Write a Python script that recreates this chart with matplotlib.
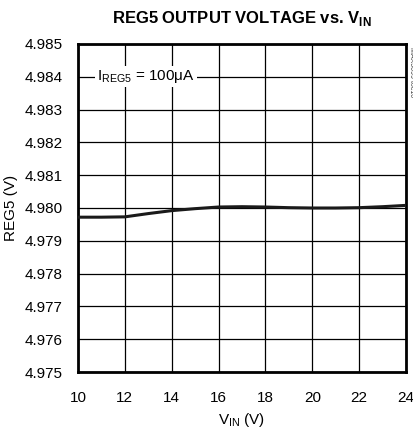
import matplotlib
matplotlib.use("Agg")
import matplotlib.pyplot as plt
from matplotlib import font_manager

names = {f.name for f in font_manager.fontManager.ttflist}
fam = "Liberation Sans Narrow" if "Liberation Sans Narrow" in names else "Liberation Sans"
plt.rcParams['font.family'] = [fam, 'DejaVu Sans']

vin = [10, 11, 12, 13, 14, 15, 16, 17, 18, 19, 20, 21, 22, 23, 24]
reg5 = [4.97972, 4.97972, 4.97973, 4.97983, 4.97992, 4.97998, 4.98003, 4.98004, 4.98003, 4.98001, 4.98000, 4.98000, 4.98001, 4.98004, 4.98008]
xticks = [10, 12, 14, 16, 18, 20, 22, 24]
yticks = [4.975, 4.976, 4.977, 4.978, 4.979, 4.980, 4.981, 4.982, 4.983, 4.984, 4.985]

fig = plt.figure(figsize=(4.14, 4.34), dpi=100)
ax = fig.add_axes([78/414, 1-372/434, 328/414, 328/434])
ax.plot(vin, reg5, color='#1a1a1a', lw=2.2, zorder=3)
ax.set_xlim(10, 24)
ax.set_ylim(4.975, 4.985)
ax.set_xticks(xticks)
ax.set_yticks(yticks)
ax.set_yticklabels([f"{v:.3f}" for v in yticks])
ax.grid(True, color='black', lw=0.9)
ax.tick_params(axis='x', length=0, labelsize=11, pad=14)
ax.tick_params(axis='y', length=0, labelsize=11, pad=11)
for s in ax.spines.values():
    s.set_linewidth(2)
ax.set_xlabel(r"V$_{\mathregular{IN}}$ (V)", fontsize=11, labelpad=4)
ax.set_ylabel("REG5 (V)", fontsize=11, labelpad=5)
ax.set_title(r"REG5 OUTPUT VOLTAGE vs. V$_{\mathregular{IN}}$", fontsize=12, fontweight='bold', pad=15)
ax.text(10.8, 4.9840, r"I$_{\mathregular{REG5}}$ = 100$\mathregular{\mu}$A", fontsize=11, va='center', ha='left',
        bbox=dict(facecolor='white', edgecolor='none', pad=1.5), zorder=4)
ax.text(1.005, 0.99, "MAX5099 toc10", transform=ax.transAxes, rotation=270, fontsize=5,
        va='top', ha='left', color='#444444')
fig.savefig("out.png", dpi=100)
